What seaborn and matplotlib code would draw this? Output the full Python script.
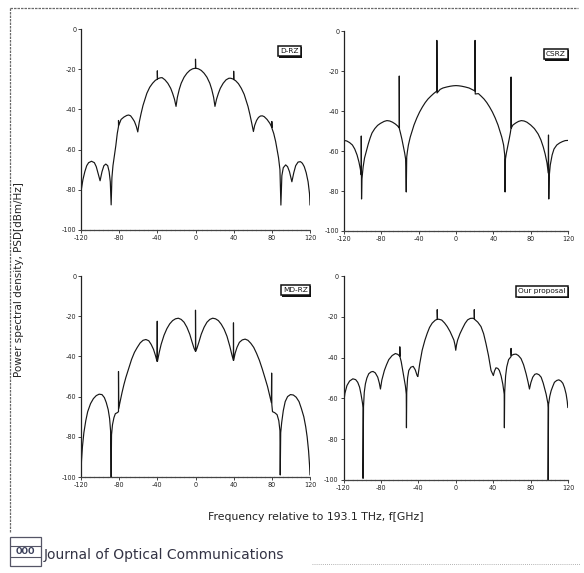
import matplotlib
matplotlib.use("Agg")
import matplotlib.pyplot as plt
import numpy as np
import pandas as pd
import seaborn as sns
from matplotlib.patches import Rectangle
from matplotlib.lines import Line2D
import matplotlib.patheffects as pe

sns.set_theme(style="ticks")
plt.rcParams["font.family"] = ["DejaVu Sans"]

# ---------------- data (frequency GHz, PSD dB) ----------------
drz_pts = [(-120, -87.5), (-119.7, -80), (-118, -75), (-116, -71), (-114, -68), (-112, -66.5),
           (-109, -65.8), (-106, -66.5), (-104, -68.5), (-102, -72), (-100, -75.5), (-98, -71),
           (-96, -68), (-94, -67.2), (-92, -68), (-90.5, -71), (-89.3, -76), (-88.4, -87.5),
           (-87.6, -74), (-86.5, -68), (-85, -63), (-83.5, -58), (-82, -52), (-80.7, -48.5),
           (-80.7, -45.5), (-80.5, -48), (-78, -45), (-75, -43.8), (-72, -43), (-70, -42.8),
           (-68, -43.2), (-66, -44.5), (-64, -46), (-62, -48.5), (-60.5, -51.2), (-59, -46.5),
           (-57, -42), (-55, -38), (-53, -35), (-51, -32), (-48, -29), (-45, -27), (-42, -25.5),
           (-40, -25), (-40, -20.8), (-39.8, -24.8), (-37, -24.3), (-35, -24.2), (-32, -25.3),
           (-29, -27), (-26, -29.5), (-24, -32), (-22, -35), (-20.4, -38.5), (-19, -34),
           (-17, -30), (-15, -27), (-12, -24), (-9, -22), (-6, -20.6), (-3, -19.8), (0, -19.5),
           (0, -15), (0.2, -19.5), (3, -19.8), (6, -20.6), (9, -22), (12, -24), (15, -27),
           (17, -30), (19, -34), (20.4, -38.5), (22, -35), (24, -32), (26, -29.5), (29, -27),
           (32, -25.3), (35, -24.5), (37, -24.5), (40, -25), (40, -21), (40.2, -25.2),
           (42, -25.7), (45, -27.2), (48, -29.5), (51, -32.5), (53, -35.5), (55, -38.5),
           (57, -42.5), (59, -47), (60.7, -51), (62, -48), (64, -45.5), (66, -44), (68, -43.3),
           (70, -43.2), (72, -43.6), (75, -45), (78, -47), (80, -49), (80, -46), (80.2, -49.5),
           (82, -52), (84, -56), (85.5, -60), (87, -64), (88.5, -70), (89.5, -87.6), (90.5, -73),
           (92, -69), (94.5, -67.6), (96.5, -68.5), (98.5, -71), (101, -76), (103, -71.5),
           (105, -68), (107.5, -66.2), (110, -66), (112, -66.8), (114, -68.5), (116, -71.5),
           (118, -76), (119.5, -82), (120, -87.6)]

csrz_pts = [(-120, -54.7), (-117, -55), (-114, -55.8), (-111, -57), (-108.5, -59), (-106, -62),
            (-104, -65.5), (-102.5, -69), (-101.5, -72), (-101.5, -52.5), (-101.2, -84),
            (-100.8, -74), (-99.5, -68), (-98, -63.5), (-96, -60), (-94, -56.5), (-92, -53.5),
            (-90, -51), (-87, -48.8), (-84, -47.2), (-81, -46.2), (-77, -45.2), (-74, -44.8),
            (-71, -45), (-68, -45.6), (-65, -46.5), (-62.5, -47.5), (-60.8, -48.5), (-60.8, -22.5),
            (-60.6, -49), (-59.5, -51), (-58, -54), (-56.5, -57.5), (-55, -61), (-54, -64),
            (-53.3, -80.5), (-52.8, -63), (-52, -60), (-51, -57), (-49, -53), (-47, -50),
            (-45, -47), (-42, -43.5), (-39, -40.5), (-36, -38), (-33, -35.8), (-30, -34),
            (-27, -32.6), (-24, -31.3), (-20.5, -30), (-20.5, -4.7), (-20.3, -31), (-17, -29.2),
            (-14, -28.5), (-10, -28), (-6, -27.6), (-3, -27.4), (0, -27.3), (3, -27.4),
            (6, -27.6), (10, -28), (14, -28.5), (17, -29.2), (20.4, -30), (20.4, -4.7),
            (20.6, -31.5), (24, -31.3), (27, -32.6), (30, -34), (33, -35.8), (36, -38),
            (39, -40.5), (42, -43.5), (45, -47), (47, -50), (49, -53), (51, -57), (52.2, -62),
            (52.6, -80.5), (53, -64), (54, -61), (55.5, -57.5), (57, -54), (58.2, -51),
            (59, -48.5), (59, -23), (59.2, -48.5), (61, -47), (64, -46), (67, -45.2), (70, -44.8),
            (73, -45), (76, -45.6), (80, -47), (84, -48.8), (88, -51.5), (91, -54.5),
            (93.5, -58), (95.5, -61.5), (97.5, -66), (98.8, -71), (99.1, -52), (99.4, -84),
            (99.8, -73), (101, -67), (103, -62), (105, -59), (108, -57), (111, -56),
            (114, -55.3), (117, -54.8), (120, -54.7)]

mdrz_pts = [(-120, -99), (-119.5, -92), (-118.5, -85), (-117, -78), (-115, -72), (-113, -67.5),
            (-110, -63.5), (-107, -61), (-104, -59.5), (-101, -58.8), (-98, -59), (-95.5, -60.5),
            (-93.5, -63), (-91.5, -66.5), (-90, -71), (-89, -77), (-88.4, -100), (-88, -79),
            (-87, -74), (-85.5, -70.5), (-84, -68.5), (-82, -68), (-80.7, -67.5), (-80.7, -47.5),
            (-80.5, -66), (-79, -62.5), (-77, -58), (-75, -54), (-73, -50.5), (-70, -46),
            (-67, -41.5), (-64, -38), (-61, -35.5), (-58, -33.3), (-55, -32), (-52, -31.6),
            (-49, -32.2), (-46.5, -34), (-44, -36.5), (-42, -39.5), (-40.3, -42.5),
            (-40.1, -22.5), (-39.9, -42.5), (-38, -38), (-36, -34), (-33, -29.5), (-30, -26.2),
            (-27, -23.8), (-24, -22.2), (-21, -21.3), (-18, -21), (-15, -21.6), (-12, -23),
            (-9, -25.5), (-6, -29), (-3.5, -33), (-1.5, -36), (0, -37.5), (0, -17), (0.2, -37.5),
            (1.5, -36), (3.5, -33), (6, -29), (9, -25.5), (12, -23), (15, -21.6), (18, -21),
            (21, -21.3), (24, -22.2), (27, -24), (30, -26.5), (33, -30), (36, -35), (38, -39),
            (39.7, -42), (39.8, -23.3), (40, -42), (41.5, -38.5), (43.5, -35.5), (46, -33),
            (49, -31.8), (52, -31.4), (55, -32), (58, -33.5), (61, -35.5), (64, -38.5), (67, -42),
            (70, -46.3), (73, -51), (75.5, -55), (77.5, -59), (79.5, -63), (79.8, -48.3),
            (80, -64), (80.7, -67.5), (83, -68), (85.5, -69), (87.3, -72), (88.5, -77),
            (88.8, -99), (89.3, -78), (90.3, -73), (92, -67), (94, -62.5), (96.5, -60),
            (99.5, -59), (102.5, -59.2), (105.5, -60.3), (108.5, -62.5), (111, -66),
            (113.5, -70), (115.5, -75), (117, -80), (118.5, -87), (119.5, -94), (120, -99)]

prop_pts = [(-120, -63), (-118.5, -57.5), (-116.3, -53.7), (-113.5, -51.5), (-110, -50.4),
            (-107, -50.8), (-104.8, -52.1), (-102.8, -54.5), (-101.3, -57.9), (-99.8, -62),
            (-99.1, -64.5), (-99.1, -99.2), (-98.6, -64), (-97.8, -57), (-96.6, -52.9),
            (-95, -50), (-93, -47.9), (-90.5, -47), (-88.4, -46.8), (-86, -47.5), (-83.4, -49.6),
            (-81.7, -52.5), (-80.5, -55.4), (-79, -51), (-76.3, -46.3), (-74, -43.5),
            (-71.6, -41), (-68, -39), (-64.5, -38), (-62, -38.4), (-59.8, -39.3), (-59.8, -34.7),
            (-59.5, -39.8), (-58.3, -42), (-57.3, -44.6), (-55.5, -49), (-53.8, -54),
            (-52.9, -57.9), (-52.7, -74.4), (-52.4, -57), (-51.5, -50), (-50.2, -46.3),
            (-48, -44.7), (-45.5, -44.3), (-43.3, -46), (-41.3, -48.8), (-40.5, -49.3),
            (-38.5, -43), (-35.9, -36.4), (-33, -31.5), (-30.5, -28.1), (-28, -25.2),
            (-25.2, -23.1), (-22, -21.7), (-19.8, -21.2), (-19.8, -16.5), (-19.5, -21.2),
            (-18, -21.2), (-15, -21.6), (-12, -23), (-9.1, -24.8), (-6, -27.3), (-3.5, -29.8),
            (-2, -31.4), (-0.8, -33.8), (0, -36.4), (0.8, -33.8), (2, -31.4), (4.5, -28.3),
            (7.3, -25.6), (10, -23.2), (12.7, -21.5), (15.5, -20.8), (18, -20.7), (19.8, -21),
            (19.8, -16.5), (20, -21.2), (23.5, -22.6), (27, -24.8), (29.8, -28.3), (32.3, -33.1),
            (35, -39), (37.7, -46.3), (40.2, -48.8), (41.5, -46.5), (43, -45), (45, -45.3),
            (46.6, -46.3), (48.5, -49), (50.3, -53), (51.8, -57.9), (52, -74.4), (52.3, -57),
            (53.3, -49), (54.5, -44.6), (56.5, -41), (59.1, -39.5), (59.1, -35.5), (59.4, -39),
            (62, -38.4), (64.5, -38.3), (67, -39), (69.8, -40.5), (72.5, -43.5), (75.2, -47.9),
            (77.3, -52), (78.8, -55.4), (80.3, -52.3), (82.3, -49.6), (84.5, -48.2),
            (86.6, -47.9), (89, -48.4), (91.3, -49.6), (93.5, -52.5), (96.6, -57.9),
            (98.5, -62.5), (98.8, -64.5), (98.8, -100), (99.2, -63), (100.5, -59),
            (102, -56.2), (103.8, -54), (105.5, -52.1), (108, -51.2), (110.2, -50.9),
            (112.5, -51.5), (114.5, -52.6), (116.3, -54.8), (118, -57.9), (119.2, -61.5),
            (119.8, -64.5)]

panel_names = ["D-RZ", "CSRZ", "MD-RZ", "Our proposal"]
panel_data = [drz_pts, csrz_pts, mdrz_pts, prop_pts]
x_ticks = [-120, -80, -40, 0, 40, 80, 120]
y_ticks = [0, -20, -40, -60, -80, -100]

# ---------------- layout ----------------
W, H = 584, 573
fig = plt.figure(figsize=(W / 100, H / 100), dpi=100)
fig.patch.set_facecolor("white")


def px_rect(left, top, right, bottom):
    return [left / W, 1 - bottom / H, (right - left) / W, (bottom - top) / H]


rects = [px_rect(81, 29, 310, 230), px_rect(344, 31, 568, 231),
         px_rect(81, 276, 310, 477), px_rect(343.5, 276, 568, 480)]
label_pos = [(0.95, 0.89), (0.99, 0.885), (0.99, 0.93), (0.99, 0.925)]

for rect, name, pts, lp in zip(rects, panel_names, panel_data, label_pos):
    ax = fig.add_axes(rect)
    df = pd.DataFrame(pts, columns=["freq", "psd"])
    sns.lineplot(data=df, x="freq", y="psd", ax=ax, color="#161616", lw=0.85,
                 estimator=None, sort=False)
    ax.set_xlim(-120, 120)
    ax.set_ylim(-100, 0)
    ax.set_xticks(x_ticks)
    ax.set_yticks(y_ticks)
    ax.set_xticklabels([str(t) for t in x_ticks])
    ax.set_yticklabels([str(t) for t in y_ticks])
    ax.tick_params(labelsize=4.7, length=2, width=0.6, pad=1.5, direction="out",
                   colors="#222222")
    ax.set_xlabel("")
    ax.set_ylabel("")
    for s in ["top", "right"]:
        ax.spines[s].set_visible(False)
    ax.spines["left"].set_linewidth(0.9)
    ax.spines["bottom"].set_linewidth(0.9)
    ax.spines["left"].set_color("#222222")
    ax.spines["bottom"].set_color("#444444")
    ax.spines["bottom"].set_linestyle((0, (3, 0.6)))
    ax.set_facecolor("white")
    t = ax.text(lp[0], lp[1], name, transform=ax.transAxes, ha="right", va="center",
                fontsize=5.3, color="#111111",
                bbox=dict(boxstyle="square,pad=0.3", fc="white", ec="#111111", lw=1.1))
    t.get_bbox_patch().set_path_effects([
        pe.SimplePatchShadow(offset=(1.0, -1.0), shadow_rgbFace="#111111", alpha=1.0),
        pe.Normal()])

# axis titles
fig.text(19 / W, 1 - 280 / H, "Power spectral density, PSD[dBm/Hz]", rotation=90,
         ha="center", va="center", fontsize=7.5, color="#222222")
fig.text(316 / W, 1 - 517 / H, "Frequency relative to 193.1 THz, f[GHz]",
         ha="center", va="center", fontsize=7.8, color="#222222")

# page frame
frame_kw = dict(transform=fig.transFigure, color="#6a6a6a", lw=0.9, ls=(0, (2, 0.8)))
fig.add_artist(Line2D([10 / W, 578 / W], [1 - 8 / H, 1 - 8 / H], **frame_kw))
fig.add_artist(Line2D([10 / W, 10 / W], [1 - 8 / H, 1 - 532 / H], **frame_kw))
fig.add_artist(Line2D([312 / W, 580 / W], [1 - 564 / H, 1 - 564 / H],
                      transform=fig.transFigure, color="#9a9a9a", lw=0.6, ls=(0, (1, 1.5))))

# journal logo and name
fig.add_artist(Rectangle((10 / W, 1 - 566 / H), 31 / W, 29 / H, transform=fig.transFigure,
                         fill=False, ec="#555566", lw=0.9))
fig.add_artist(Line2D([10 / W, 41 / W], [1 - 546 / H, 1 - 546 / H],
                      transform=fig.transFigure, color="#555566", lw=0.8))
fig.add_artist(Line2D([10 / W, 41 / W], [1 - 557 / H, 1 - 557 / H],
                      transform=fig.transFigure, color="#555566", lw=0.8))
fig.text(25.5 / W, 1 - 551.5 / H, "OOO", ha="center", va="center", fontsize=5.5,
         color="#3a3f5a", fontweight="bold")
fig.text(44 / W, 1 - 555 / H, "Journal of Optical Communications", ha="left",
         va="center", fontsize=10, color="#333344")

fig.savefig("out.png", dpi=100, facecolor="white")
